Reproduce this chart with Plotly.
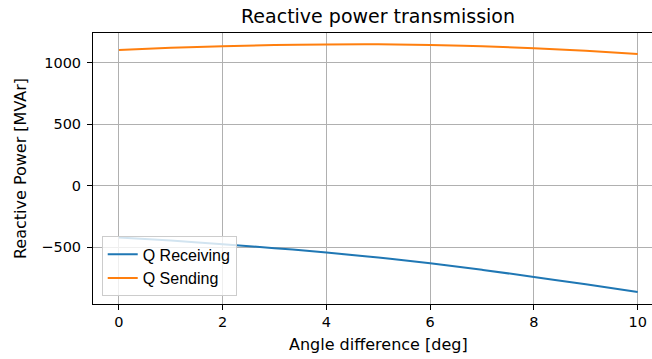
import plotly.graph_objects as go

angle_deg = [0, 1, 2, 3, 4, 5, 6, 7, 8, 9, 10]
q_receiving = [-420, -445, -474, -506, -542, -583, -629, -682, -740, -800, -862]
q_sending = [1104, 1122, 1135, 1144, 1149, 1150, 1145, 1134, 1118, 1097, 1072]
x_ticks = [0, 2, 4, 6, 8, 10]
y_ticks = [-500, 0, 500, 1000]

W, H = 652, 359
L, R, T, B = 93, 0, 33, 55

fig = go.Figure()
fig.add_trace(go.Scatter(x=angle_deg, y=q_receiving, mode="lines", name="Q Receiving",
                         line=dict(color="#1f77b4", width=2, shape="spline")))
fig.add_trace(go.Scatter(x=angle_deg, y=q_sending, mode="lines", name="Q Sending",
                         line=dict(color="#ff7f0e", width=2, shape="spline")))

tickfont = dict(family="DejaVu Sans", size=14.5, color="#000000")
fig.update_layout(
    width=W, height=H,
    margin=dict(l=L, r=R, t=T, b=B, pad=0),
    paper_bgcolor="white", plot_bgcolor="white",
    font=dict(family="DejaVu Sans", size=14.5, color="#000000"),
    title=dict(text="Reactive power transmission", x=378 / W, xanchor="center",
               y=1 - 16 / H, yanchor="middle",
               font=dict(family="DejaVu Sans", size=19, color="#000000")),
    showlegend=True,
    legend=dict(x=0.0156, y=0.028, xanchor="left", yanchor="bottom",
                bgcolor="rgba(255,255,255,0.8)", bordercolor="#cccccc", borderwidth=1,
                font=dict(family="Liberation Sans", size=16, color="#000000"),
                tracegroupgap=0),
)
fig.update_xaxes(range=[-0.5, 10.276], tickvals=x_ticks, ticktext=[str(v) for v in x_ticks],
                 showgrid=True, gridcolor="#b0b0b0", gridwidth=1, zeroline=False,
                 showline=True, linecolor="#000000", linewidth=1, mirror=True,
                 ticks="outside", ticklen=5, tickcolor="#000000", tickfont=tickfont)
fig.update_yaxes(range=[-960, 1242], tickvals=y_ticks, ticktext=["\u2212500", "0", "500", "1000"],
                 showgrid=True, gridcolor="#b0b0b0", gridwidth=1, zeroline=False,
                 showline=True, linecolor="#000000", linewidth=1, mirror=False,
                 ticks="outside", ticklen=5, tickcolor="#000000", tickfont=tickfont,
                 ticklabelstandoff=3,
                 title=dict(text="Reactive Power [MVAr]", standoff=10,
                            font=dict(family="DejaVu Sans", size=16, color="#000000")))

pw = W - L - R
ph = H - T - B
fig.add_annotation(text="Angle difference [deg]", xref="paper", yref="paper",
                   x=(378 - L) / pw, y=-(344 - (H - B)) / ph, xanchor="center", yanchor="middle",
                   showarrow=False, font=dict(family="DejaVu Sans", size=16, color="#000000"))

fig.write_html("out.html")
